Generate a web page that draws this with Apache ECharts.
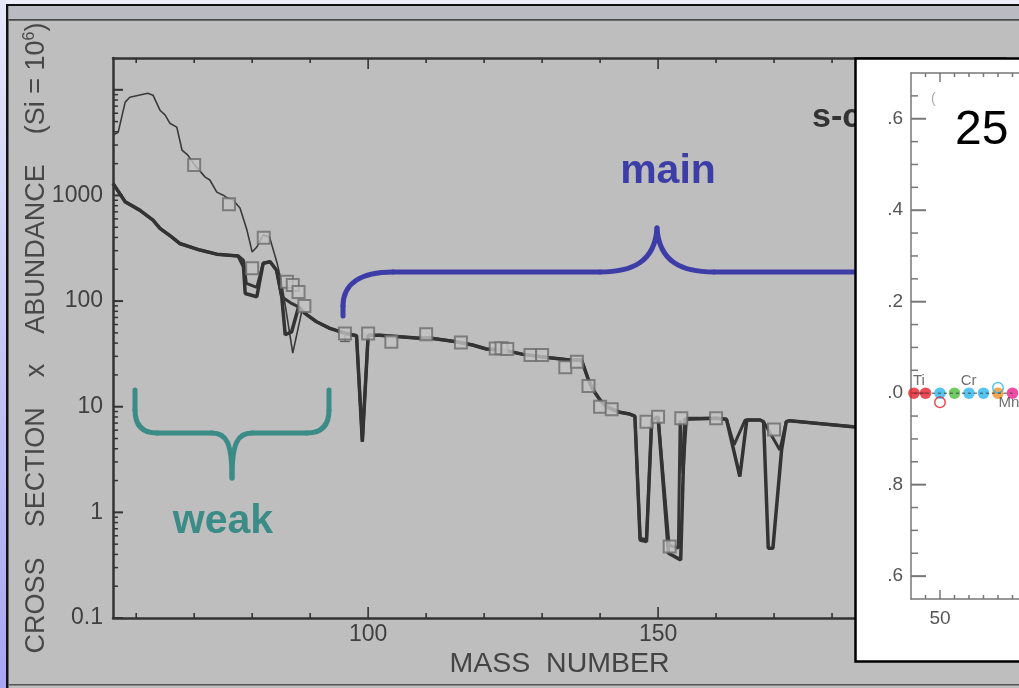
<!DOCTYPE html>
<html><head><meta charset="utf-8">
<script src="https://cdn.jsdelivr.net/npm/echarts@6/dist/echarts.min.js"></script>
<style>html,body{margin:0;padding:0;background:#bebebe}#c{width:1019px;height:688px}</style>
</head><body><div id="c"></div>
<script>
// ---------------- DATA ----------------
// main s-process model curve (thick), [mass number, sigma*N]
const modelMainA = [[56,1300],[58.1,870],[60.6,726],[62.9,584],[64.1,487],[66.1,406],[67.5,351],[71,304],[73.9,278],[77.6,267],[78.5,211],[78.8,118],[80.8,110],[81.9,228],[83.1,236],[84.2,196],[85.1,110],[85.7,48],[86.8,51],[88,88],[89.1,76.5],[91.1,63.7],[93.4,55.2],[95.7,50.2],[98,47],[99,4.67],[100,47.6],[102,47.6],[108.9,44.4],[110.6,44.8],[115.2,41.2],[118,38.4],[120.4,35.2],[123.3,34.4],[126.7,31.3],[131.3,29.1],[134.8,27.7],[136.8,27.7],[138,17.9],[138.8,14.4],[140,11.6],[141.1,10.0],[143.4,8.85],[145.1,8.53],[146,8.16],[146.9,0.548],[148,0.528],[148.9,7.48],[150,7.99],[151.8,0.41],[153.9,0.355],[154.6,7.6],[160.1,7.76],[161.8,7.6],[164.1,2.18],[165.3,7.48],[167.6,7.48],[168.2,7.21],[169,0.457],[169.8,0.457],[171.3,3.89],[172.1,7.21],[172.7,7.38],[183.6,6.47],[188,6.3]];
// second model curve (thick, differs at branchings)
const modelMainB = [[56,1300],[58.1,870],[60.6,726],[62.9,584],[64.1,487],[66.1,406],[67.5,351],[71,304],[73.9,278],[77.6,267],[78.5,244],[79,147],[80.8,135],[81.9,228],[83.1,236],[84.2,196],[85.1,110],[86.8,95],[88,88],[89.1,76.5],[91.1,63.7],[93.4,55.2],[95.7,50.2],[98,47],[99,4.67],[100,47.6],[102,47.6],[108.9,44.4],[110.6,44.8],[115.2,41.2],[118,38.4],[120.4,35.2],[123.3,34.4],[126.7,31.3],[131.3,29.1],[134.8,27.7],[136.8,27.7],[138,17.9],[138.8,14.4],[140,11.6],[141.1,10.0],[143.4,8.85],[145.1,8.53],[146,8.16],[146.9,0.57],[148,0.55],[148.9,7.48],[150,7.99],[151.9,0.49],[153.5,0.46],[153.8,7.4],[154.3,2.34],[154.9,7.76],[160.1,7.76],[161.8,7.6],[163.1,4.35],[165,7.48],[167.6,7.48],[168.2,7.21],[171,3.89],[172.1,7.21],[172.7,7.38],[183.6,6.47],[188,6.3]];
// weak component curve (thin)
const modelWeak = [[56,3720],[56.9,3970],[58.1,7640],[58.9,8510],[62,9290],[62.9,8900],[64.1,6410],[65,5750],[65.8,4830],[67,4430],[67.9,2690],[68.9,2410],[70.1,1940],[71.9,1490],[72.7,1400],[73.9,1075],[75,1006],[75.8,944],[76.7,904],[77.9,760],[79.1,470],[80,291],[80.8,325],[81.9,421],[83,403],[84.3,229],[85.1,148],[87,32.2],[88.6,82]];
// observed s-only values (squares)
const observed = [[70,1940],[76,827],[80,204],[82,397],[86,152],[87,142],[88,122],[89,89.8],[96,49.4],[100,49.4],[104,41.2],[110,48.4],[116,40.6],[122,35.6],[123,35.8],[124,35.2],[128,30.8],[130,30.8],[134,23.6],[136,26.7],[138,15.7],[140,10.0],[142,9.44],[148,7.21],[150,8.03],[152,0.474],[154,7.76],[160,7.76],[170,6.07]];
// error bar [mass, high, low]
const observedErr = [[96,49.4,41.5]];

// axis ticks / labels
const xTickValues = [60,70,80,90,100,110,120,130,140,150,160,170,180,190,200];
const xMajorTicks = [100,150,200];
const xLabelValues = [100,150,200];
const yDecades = [0.1,1,10,100,1000,10000];
const yMinorFactors = [2,3,4,5,6,7,8,9];

// inset panel
const insetFilled = [['Ti',48.2,1.0],['Ti',49,1.0],['Cr',50,1.0],['V',51,1.0],['Cr',52,1.0],['Cr',53,1.0],['Fe',54,1.0],['Mn',55,1.0]];
const insetOpen = [['Ti',50,0.98],['Cr',54,1.012]];
const insetLabels = [['Ti',48.55,1.026],['Cr',51.97,1.028],['Mn',54.76,0.978]];
const insetXTicks = [49,50,51,52,53,54,55];
const insetXMajor = [50];
const insetYTicks = [0.6,0.65,0.7,0.75,0.8,0.85,0.9,0.95,1.0,1.05,1.1,1.15,1.2,1.25,1.3,1.35,1.4,1.45,1.5,1.55,1.6,1.65];
const insetYMajor = [0.6,0.8,1.0,1.2,1.4,1.6];

// ---------------- STYLE ----------------
const FONT = "'Liberation Sans', Arial, Helvetica, sans-serif";
const elementColors = {Ti:'#e5202a', V:'#4dbb3c', Cr:'#29b6ee', Fe:'#f39020', Mn:'#ea1e8c'};
const INK = '#333';
const Y_MIN = 0.1, Y_MAX = 20000, X_MIN = 56, X_MAX = 210;
const IY_MIN = 0.55, IY_MAX = 1.7, IX_MIN = 48, IX_MAX = 55.45;

const yTickData = [];
yDecades.forEach(d => {
  yTickData.push([X_MIN, d, 1]);
  yMinorFactors.forEach(f => { const v = +(f*d).toPrecision(3); if (v < Y_MAX) yTickData.push([X_MIN, v, 0]); });
});

function xTickRender(yLo, yHi, minorLen, majorLen, color, width) {
  return function (params, api) {
    const v = api.value(0), major = api.value(2);
    const b = api.coord([v, yLo]), t = api.coord([v, yHi]);
    const len = major ? majorLen : minorLen;
    return {type:'group', children:[
      {type:'line', shape:{x1:b[0], y1:b[1], x2:b[0], y2:b[1]-len}, style:{stroke:color, lineWidth:width}},
      {type:'line', shape:{x1:t[0], y1:t[1], x2:t[0], y2:t[1]+len}, style:{stroke:color, lineWidth:width}}
    ]};
  };
}
function yTickRender(xLo, minorLen, majorLen, color, width) {
  return function (params, api) {
    const v = api.value(1), major = api.value(2);
    const p = api.coord([xLo, v]);
    const len = major ? majorLen : minorLen;
    return {type:'line', shape:{x1:p[0], y1:p[1], x2:p[0]+len, y2:p[1]}, style:{stroke:color, lineWidth: major ? width+0.5 : width}};
  };
}

// brace outlines (annotation decoration, pixel space)
const braceBlueSegs = [
  ['L',343,316,343,306],
  ['C',343,306,343,284,360,272,393,272],
  ['L',393,272,600,272],
  ['C',600,272,632,272,655,262,657,228],
  ['C',657,228,659,262,682,272,714,272],
  ['L',714,272,860,272]
];
const braceTealSegs = [
  ['L',135,390,135,410],
  ['C',135,410,135,425,142,433,157,433],
  ['L',157,433,212,433],
  ['C',212,433,226,433,232,442,232,478],
  ['C',232,478,232,442,238,433,252,433],
  ['L',252,433,307,433],
  ['C',307,433,322,433,329,425,329,410],
  ['L',329,410,329,390]
];
function braceElems(segs, color) {
  return segs.map(s => s[0] === 'L'
    ? {type:'line', z:7, shape:{x1:s[1], y1:s[2], x2:s[3], y2:s[4]}, style:{stroke:color, lineWidth:5, lineCap:'round'}}
    : {type:'bezierCurve', z:7, shape:{x1:s[1], y1:s[2], cpx1:s[3], cpy1:s[4], cpx2:s[5], cpy2:s[6], x2:s[7], y2:s[8]}, style:{stroke:color, lineWidth:5, fill:null, lineCap:'round'}});
}

const chart = echarts.init(document.getElementById('c'), null, {renderer:'canvas'});

chart.setOption({
  backgroundColor:'#bebebe',
  animation:false,
  textStyle:{fontFamily:FONT},
  grid:[
    {left:113, top:58, right:13, bottom:70},
    {left:911, top:73, right:0, bottom:89}
  ],
  xAxis:[
    {gridIndex:0, type:'value', min:X_MIN, max:X_MAX, interval:2, position:'bottom',
     axisLine:{show:true, onZero:false, lineStyle:{color:INK, width:2.5}},
     axisTick:{show:false}, splitLine:{show:false},
     axisLabel:{fontSize:23, color:'#404040', fontFamily:FONT, margin:5,
       formatter: v => xLabelValues.indexOf(Math.round(v)) >= 0 && Math.abs(v-Math.round(v))<1e-6 ? String(Math.round(v)) : ''},
     name:'MASS  NUMBER', nameLocation:'middle', nameGap:32, nameMoveOverlap:false,
     nameTextStyle:{fontSize:28.5, color:'#444', fontFamily:FONT}},
    {gridIndex:0, type:'value', min:X_MIN, max:X_MAX, position:'top',
     axisLine:{show:true, onZero:false, lineStyle:{color:INK, width:2.5}},
     axisTick:{show:false}, axisLabel:{show:false}, splitLine:{show:false}},
    {gridIndex:1, type:'value', min:IX_MIN, max:IX_MAX, interval:1, position:'bottom', z:20,
     axisLine:{show:true, onZero:false, lineStyle:{color:'#777', width:1.5}},
     axisTick:{show:false}, splitLine:{show:false},
     axisLabel:{fontSize:19, color:'#555', fontFamily:FONT, margin:10, showMaxLabel:false,
       formatter: v => insetXMajor.indexOf(v) >= 0 ? String(v) : ''}},
    {gridIndex:1, type:'value', min:IX_MIN, max:IX_MAX, position:'top', z:20,
     axisLine:{show:true, onZero:false, lineStyle:{color:'#777', width:1.5}},
     axisTick:{show:false}, axisLabel:{show:false}, splitLine:{show:false}}
  ],
  yAxis:[
    {gridIndex:0, type:'log', logBase:10, min:Y_MIN, max:Y_MAX,
     axisLine:{show:true, onZero:false, lineStyle:{color:INK, width:2.5}},
     axisTick:{show:false}, splitLine:{show:false},
     axisLabel:{fontSize:23, color:'#404040', fontFamily:FONT, margin:10,
       formatter: v => v > 5000 ? '' : (v < 1 ? v.toFixed(1) : String(Math.round(v)))},
     name:'CROSS    SECTION    x    ABUNDANCE    (Si = 10{sup|6})', nameLocation:'middle', nameGap:61, nameMoveOverlap:false,
     nameTextStyle:{fontSize:27, color:'#484848', fontFamily:FONT,
       rich:{sup:{fontSize:16, color:'#484848', fontFamily:FONT, verticalAlign:'top', lineHeight:30}}}},
    {gridIndex:1, type:'value', min:IY_MIN, max:IY_MAX, interval:0.05, z:20,
     axisLine:{show:true, onZero:false, lineStyle:{color:'#777', width:1.5}},
     axisTick:{show:false}, splitLine:{show:false},
     axisLabel:{fontSize:19, color:'#555', fontFamily:FONT, margin:8,
       formatter: v => { const r = Math.round(v*100)/100; return insetYMajor.some(m => Math.abs(m-r)<1e-6) ? '.' + (Math.round(r*10) % 10) : ''; }}}
  ],
  series:[
    {type:'custom', name:'xticks', xAxisIndex:0, yAxisIndex:0, silent:true, z:3,
     data: xTickValues.map(v => [v, 1, xMajorTicks.indexOf(v) >= 0 ? 1 : 0]),
     renderItem: xTickRender(Y_MIN, Y_MAX, 5, 11, INK, 1.6)},
    {type:'custom', name:'yticks', xAxisIndex:0, yAxisIndex:0, silent:true, z:3,
     data: yTickData,
     renderItem: yTickRender(X_MIN, 5, 10, INK, 1.5)},
    {type:'line', name:'weak', xAxisIndex:0, yAxisIndex:0, data:modelWeak, symbol:'none',
     lineStyle:{color:'#3a3a3a', width:1.6}, z:4},
    {type:'line', name:'modelB', xAxisIndex:0, yAxisIndex:0, data:modelMainB, symbol:'none',
     lineStyle:{color:'#363636', width:3}, z:4},
    {type:'line', name:'modelA', xAxisIndex:0, yAxisIndex:0, data:modelMainA, symbol:'none',
     lineStyle:{color:'#333', width:3.5}, z:4},
    {type:'custom', name:'err', xAxisIndex:0, yAxisIndex:0, silent:true, z:5,
     data: observedErr,
     renderItem: (params, api) => {
       const hi = api.coord([api.value(0), api.value(1)]), lo = api.coord([api.value(0), api.value(2)]);
       return {type:'group', children:[
         {type:'line', shape:{x1:hi[0], y1:hi[1], x2:lo[0], y2:lo[1]}, style:{stroke:'#666', lineWidth:1.5}},
         {type:'line', shape:{x1:lo[0]-5, y1:lo[1], x2:lo[0]+5, y2:lo[1]}, style:{stroke:'#666', lineWidth:1.5}}
       ]};
     }},
    {type:'scatter', name:'observed', xAxisIndex:0, yAxisIndex:0, data:observed, symbol:'rect', symbolSize:12, z:6,
     itemStyle:{color:'#c3c3c3', borderColor:'#6b6b6b', borderWidth:2}},
    // inset
    {type:'custom', name:'ixticks', xAxisIndex:2, yAxisIndex:1, silent:true, z:21,
     data: insetXTicks.map(v => [v, 1.0, insetXMajor.indexOf(v) >= 0 ? 1 : 0]),
     renderItem: xTickRender(IY_MIN, IY_MAX, 4, 9, '#777', 1.5)},
    {type:'custom', name:'iyticks', xAxisIndex:2, yAxisIndex:1, silent:true, z:21,
     data: insetYTicks.map(v => [IX_MIN, v, insetYMajor.some(m => Math.abs(m-v)<1e-6) ? 1 : 0]),
     renderItem: yTickRender(IX_MIN, 7, 15, '#777', 1.5)},
    {type:'scatter', name:'insetFilled', xAxisIndex:2, yAxisIndex:1, z:21, symbolSize:11.5,
     data: insetFilled.map(d => ({value:[d[1], d[2]], itemStyle:{color:elementColors[d[0]]}}))},
    {type:'scatter', name:'insetOpen', xAxisIndex:2, yAxisIndex:1, z:22, symbolSize:10.5,
     data: insetOpen.map(d => ({value:[d[1], d[2]], itemStyle:{color:'rgba(0,0,0,0)', borderColor:elementColors[d[0]], borderWidth:1.5}}))},
    {type:'line', name:'insetLine', xAxisIndex:2, yAxisIndex:1, z:23, symbol:'none',
     data: insetFilled.map(d => [d[1], d[2]]),
     lineStyle:{color:'#444', width:1, type:[3,3]}},
    {type:'scatter', name:'insetLabels', xAxisIndex:2, yAxisIndex:1, z:23, symbolSize:0,
     data: insetLabels.map(d => ({name:d[0], value:[d[1], d[2]]})),
     label:{show:true, position:'inside', formatter:'{b}', fontSize:15, color:'#4a4a4a', fontFamily:FONT}}
  ],
  graphic:[
    {type:'rect', z:0, shape:{x:0, y:0, width:1019, height:5}, style:{fill:'#eeeefb'}},
    {type:'rect', z:0, shape:{x:0, y:0, width:6.5, height:688},
     style:{fill:new echarts.graphic.LinearGradient(0,0,0,1,[{offset:0,color:'#e8e8fb'},{offset:1,color:'#a6a6f2'}])}},
    {type:'rect', z:0, shape:{x:6, y:4, width:1013, height:2}, style:{fill:'#111'}},
    {type:'rect', z:0, shape:{x:6, y:4, width:2.5, height:684}, style:{fill:'#111'}},
    {type:'rect', z:0, shape:{x:8.5, y:6, width:1011, height:13}, style:{fill:'#babac2'}},
    {type:'rect', z:0, shape:{x:8.5, y:19, width:1011, height:1.8}, style:{fill:'#4a4a4a'}},
    {type:'rect', z:0, shape:{x:8.5, y:684, width:1011, height:1.6}, style:{fill:'#555'}},
    {type:'text', z:1, x:812, y:118, style:{text:'s-curve', fontSize:34, fontWeight:'bold', fontFamily:FONT, fill:'#333', align:'left', verticalAlign:'middle'}}
  ].concat(braceElems(braceBlueSegs, '#3d3da8'), braceElems(braceTealSegs, '#3b8b86'), [
    {type:'text', z:7, x:668, y:172, style:{text:'main', fontSize:41, fontWeight:'bold', fontFamily:FONT, fill:'#3d3da8', align:'center', verticalAlign:'middle'}},
    {type:'text', z:7, x:223, y:522, style:{text:'weak', fontSize:41, fontWeight:'bold', fontFamily:FONT, fill:'#3b8b86', align:'center', verticalAlign:'middle'}},
    {type:'rect', z:10, shape:{x:855.5, y:58.5, width:200, height:603}, style:{fill:'#fff', stroke:'#000', lineWidth:2.5}},
    {type:'text', z:24, x:955, y:131, style:{text:'25', fontSize:48, fontFamily:FONT, fill:'#000', align:'left', verticalAlign:'middle'}},
    {type:'text', z:24, x:931, y:99, style:{text:'(', fontSize:14, fontFamily:FONT, fill:'#aaa', align:'left', verticalAlign:'middle'}}
  ])
});
</script>
</body></html>
